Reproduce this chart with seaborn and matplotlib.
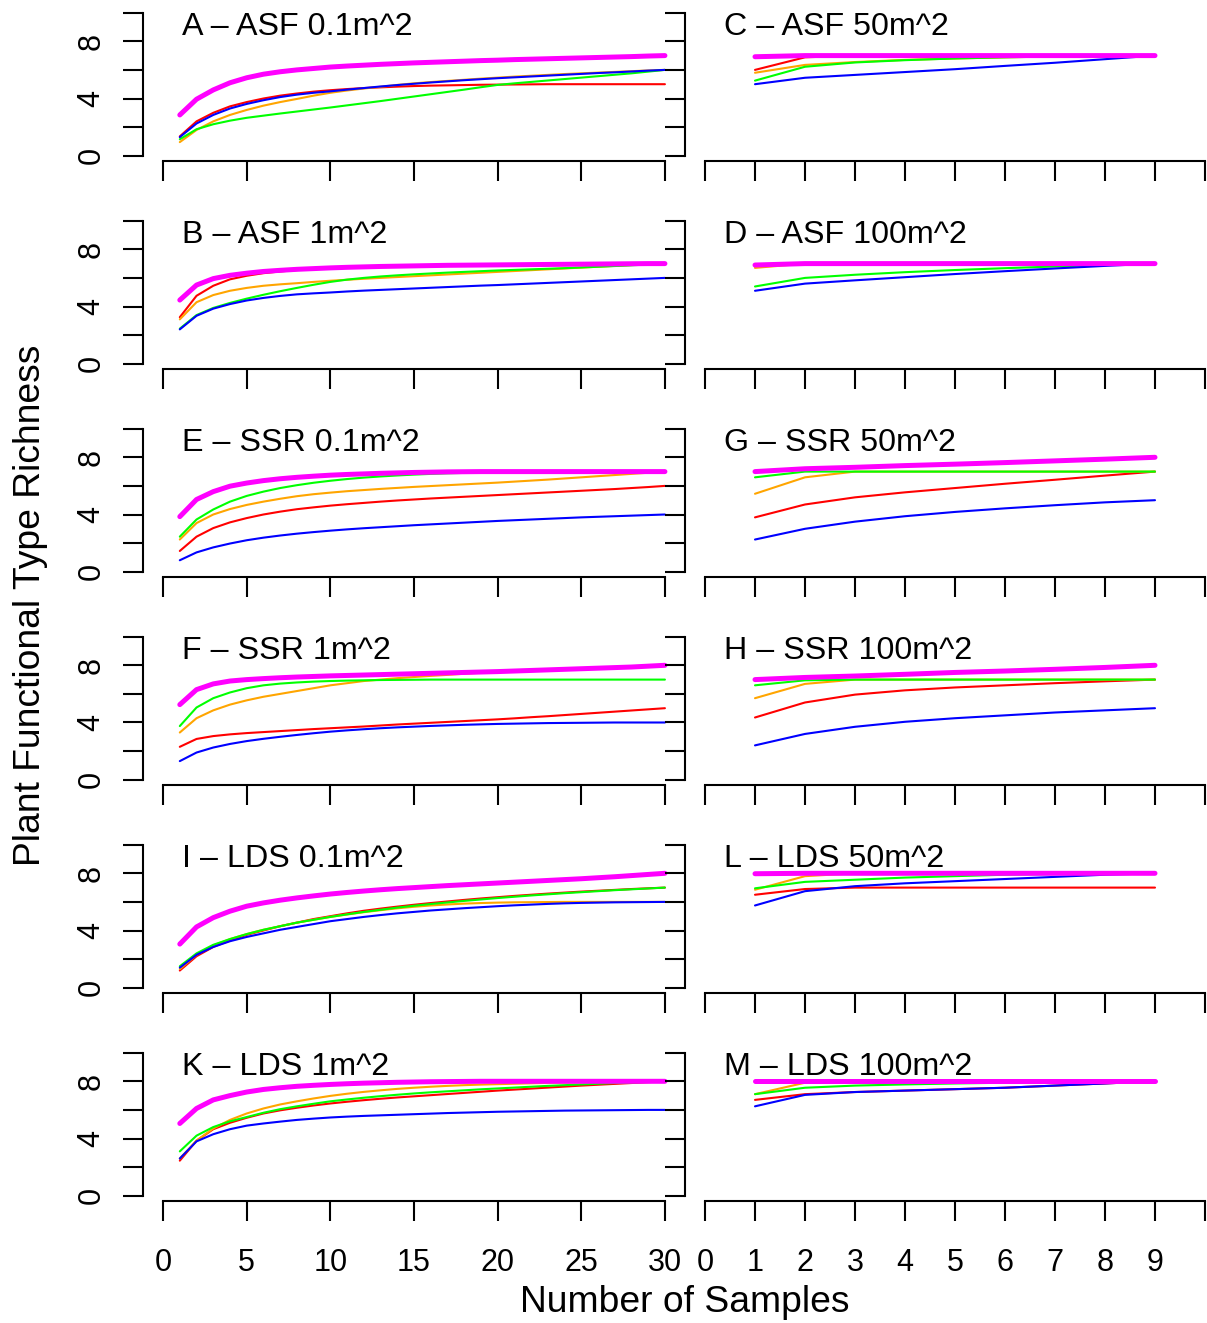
import matplotlib
matplotlib.use("Agg")
import matplotlib.pyplot as plt
import matplotlib.transforms as mtransforms
import pandas as pd
import seaborn as sns

# ---------------- data ----------------
samples_small = list(range(1, 31))   # 0.1m^2 and 1m^2 plots
samples_large = list(range(1, 10))   # 50m^2 and 100m^2 plots

series_order = ["red", "orange", "green", "blue", "magenta"]

# A - ASF 0.1m^2
asf01_red = [1.35, 2.4, 3.0, 3.45, 3.75, 4.0, 4.2, 4.35, 4.48, 4.58, 4.66, 4.73, 4.78, 4.83, 4.87,
             4.9, 4.92, 4.94, 4.96, 4.97, 4.98, 4.99, 5.0, 5.0, 5.0, 5.0, 5.0, 5.0, 5.0, 5.0]
asf01_orange = [0.95, 1.8, 2.4, 2.85, 3.2, 3.5, 3.75, 3.97, 4.2, 4.4, 4.56, 4.7, 4.82, 4.95, 5.06,
                5.15, 5.23, 5.31, 5.39, 5.46, 5.53, 5.59, 5.65, 5.71, 5.76, 5.81, 5.86, 5.91, 5.96, 6.0]
asf01_green = [1.15, 1.85, 2.2, 2.45, 2.65, 2.8, 2.95, 3.09, 3.23, 3.37, 3.52, 3.67, 3.82, 3.98, 4.14,
               4.3, 4.46, 4.62, 4.79, 4.95, 5.06, 5.16, 5.26, 5.36, 5.46, 5.56, 5.66, 5.76, 5.88, 6.0]
asf01_blue = [1.3, 2.25, 2.85, 3.3, 3.62, 3.88, 4.1, 4.27, 4.4, 4.5, 4.62, 4.73, 4.84, 4.94, 5.03,
              5.12, 5.2, 5.28, 5.35, 5.42, 5.48, 5.54, 5.6, 5.66, 5.72, 5.78, 5.83, 5.89, 5.95, 6.0]
asf01_magenta = [2.85, 3.95, 4.6, 5.1, 5.45, 5.7, 5.87, 6.0, 6.1, 6.2, 6.27, 6.33, 6.39, 6.44, 6.49,
                 6.53, 6.57, 6.61, 6.65, 6.68, 6.72, 6.75, 6.78, 6.81, 6.84, 6.87, 6.9, 6.93, 6.97, 7.0]

# B - ASF 1m^2
asf1_red = [3.25, 4.75, 5.45, 5.9, 6.15, 6.33, 6.45, 6.55, 6.62, 6.68, 6.73, 6.77, 6.8, 6.83, 6.85,
            6.87, 6.89, 6.9, 6.91, 6.92, 6.93, 6.94, 6.95, 6.96, 6.97, 6.98, 6.98, 6.99, 7.0, 7.0]
asf1_orange = [3.1, 4.3, 4.8, 5.1, 5.3, 5.45, 5.55, 5.63, 5.72, 5.8, 5.87, 5.94, 6.0, 6.06, 6.12,
               6.18, 6.24, 6.3, 6.36, 6.42, 6.48, 6.54, 6.6, 6.66, 6.72, 6.78, 6.84, 6.9, 6.95, 7.0]
asf1_green = [2.45, 3.4, 3.9, 4.25, 4.55, 4.82, 5.07, 5.3, 5.52, 5.72, 5.88, 6.0, 6.1, 6.18, 6.25,
              6.31, 6.37, 6.42, 6.47, 6.52, 6.56, 6.6, 6.64, 6.68, 6.73, 6.78, 6.83, 6.88, 6.94, 7.0]
asf1_blue = [2.4, 3.35, 3.85, 4.17, 4.42, 4.6, 4.74, 4.85, 4.92, 4.98, 5.05, 5.11, 5.16, 5.21, 5.26,
             5.31, 5.36, 5.41, 5.46, 5.5, 5.55, 5.6, 5.65, 5.7, 5.75, 5.8, 5.85, 5.9, 5.95, 6.0]
asf1_magenta = [4.45, 5.5, 5.95, 6.18, 6.33, 6.45, 6.53, 6.6, 6.65, 6.7, 6.74, 6.77, 6.8, 6.82, 6.84,
                6.86, 6.88, 6.89, 6.9, 6.91, 6.92, 6.93, 6.94, 6.95, 6.96, 6.97, 6.98, 6.99, 7.0, 7.0]

# C - ASF 50m^2
asf50_red = [6.0, 6.88, 7.0, 7.0, 7.0, 7.0, 7.0, 7.0, 7.0]
asf50_orange = [5.8, 6.35, 6.55, 6.7, 6.8, 6.88, 6.94, 6.98, 7.0]
asf50_green = [5.25, 6.22, 6.52, 6.68, 6.8, 6.88, 6.94, 6.98, 7.0]
asf50_blue = [5.0, 5.45, 5.65, 5.85, 6.05, 6.28, 6.5, 6.75, 7.0]
asf50_magenta = [6.92, 7.0, 7.0, 7.0, 7.0, 7.0, 7.0, 7.0, 7.0]

# D - ASF 100m^2
asf100_red = [6.8, 7.0, 7.0, 7.0, 7.0, 7.0, 7.0, 7.0, 7.0]
asf100_orange = [6.7, 7.0, 7.0, 7.0, 7.0, 7.0, 7.0, 7.0, 7.0]
asf100_green = [5.4, 6.0, 6.22, 6.4, 6.55, 6.68, 6.8, 6.9, 7.0]
asf100_blue = [5.1, 5.6, 5.83, 6.05, 6.27, 6.47, 6.66, 6.84, 7.0]
asf100_magenta = [6.9, 7.0, 7.0, 7.0, 7.0, 7.0, 7.0, 7.0, 7.0]

# E - SSR 0.1m^2
ssr01_red = [1.45, 2.45, 3.05, 3.45, 3.75, 4.0, 4.2, 4.37, 4.5, 4.62, 4.72, 4.81, 4.9, 4.98, 5.05,
             5.12, 5.18, 5.24, 5.3, 5.36, 5.42, 5.48, 5.54, 5.6, 5.66, 5.72, 5.78, 5.85, 5.92, 6.0]
ssr01_orange = [2.25, 3.4, 4.0, 4.38, 4.67, 4.9, 5.1, 5.28, 5.42, 5.53, 5.63, 5.71, 5.79, 5.86, 5.93,
                5.99, 6.05, 6.11, 6.17, 6.23, 6.3, 6.37, 6.44, 6.52, 6.6, 6.68, 6.76, 6.84, 6.92, 7.0]
ssr01_green = [2.45, 3.65, 4.35, 4.9, 5.3, 5.6, 5.85, 6.05, 6.22, 6.36, 6.48, 6.58, 6.66, 6.73, 6.79,
               6.84, 6.88, 6.91, 6.94, 6.96, 6.98, 6.99, 7.0, 7.0, 7.0, 7.0, 7.0, 7.0, 7.0, 7.0]
ssr01_blue = [0.8, 1.35, 1.7, 1.97, 2.2, 2.38, 2.53, 2.66, 2.77, 2.87, 2.96, 3.04, 3.11, 3.18, 3.25,
              3.31, 3.37, 3.43, 3.49, 3.55, 3.6, 3.65, 3.7, 3.75, 3.8, 3.84, 3.88, 3.92, 3.96, 4.0]
ssr01_magenta = [3.85, 5.05, 5.6, 5.98, 6.2, 6.37, 6.5, 6.6, 6.68, 6.75, 6.8, 6.84, 6.88, 6.91, 6.94,
                 6.96, 6.98, 6.99, 7.0, 7.0, 7.0, 7.0, 7.0, 7.0, 7.0, 7.0, 7.0, 7.0, 7.0, 7.0]

# F - SSR 1m^2
ssr1_red = [2.3, 2.85, 3.05, 3.17, 3.26, 3.33, 3.4, 3.47, 3.54, 3.6, 3.66, 3.72, 3.79, 3.86, 3.92,
            3.98, 4.04, 4.1, 4.16, 4.22, 4.29, 4.37, 4.44, 4.52, 4.6, 4.68, 4.76, 4.84, 4.92, 5.0]
ssr1_orange = [3.3, 4.3, 4.85, 5.25, 5.55, 5.8, 6.0, 6.2, 6.4, 6.6, 6.75, 6.9, 7.0, 7.1, 7.18,
               7.26, 7.33, 7.41, 7.48, 7.55, 7.6, 7.65, 7.7, 7.74, 7.78, 7.82, 7.86, 7.9, 7.95, 8.0]
ssr1_green = [3.75, 5.05, 5.7, 6.1, 6.4, 6.6, 6.72, 6.8, 6.86, 6.9, 6.93, 6.95, 6.97, 6.98, 6.99,
              7.0, 7.0, 7.0, 7.0, 7.0, 7.0, 7.0, 7.0, 7.0, 7.0, 7.0, 7.0, 7.0, 7.0, 7.0]
ssr1_blue = [1.3, 1.9, 2.25, 2.5, 2.7, 2.86, 3.0, 3.13, 3.25, 3.36, 3.45, 3.53, 3.6, 3.66, 3.71,
             3.76, 3.8, 3.84, 3.87, 3.9, 3.92, 3.94, 3.96, 3.97, 3.98, 3.99, 4.0, 4.0, 4.0, 4.0]
ssr1_magenta = [5.25, 6.3, 6.7, 6.9, 7.0, 7.07, 7.13, 7.18, 7.22, 7.26, 7.29, 7.32, 7.35, 7.38, 7.41,
                7.44, 7.47, 7.5, 7.53, 7.56, 7.6, 7.64, 7.68, 7.72, 7.76, 7.8, 7.84, 7.88, 7.94, 8.0]

# G - SSR 50m^2
ssr50_red = [3.8, 4.7, 5.2, 5.55, 5.85, 6.15, 6.43, 6.72, 7.0]
ssr50_orange = [5.45, 6.6, 7.0, 7.0, 7.0, 7.0, 7.0, 7.0, 7.0]
ssr50_green = [6.6, 7.0, 7.0, 7.0, 7.0, 7.0, 7.0, 7.0, 7.0]
ssr50_blue = [2.25, 3.0, 3.5, 3.88, 4.18, 4.43, 4.65, 4.85, 5.0]
ssr50_magenta = [7.0, 7.2, 7.3, 7.42, 7.52, 7.63, 7.75, 7.87, 8.0]

# H - SSR 100m^2
ssr100_red = [4.35, 5.4, 5.95, 6.25, 6.45, 6.6, 6.75, 6.88, 7.0]
ssr100_orange = [5.7, 6.7, 7.0, 7.0, 7.0, 7.0, 7.0, 7.0, 7.0]
ssr100_green = [6.6, 6.95, 7.0, 7.0, 7.0, 7.0, 7.0, 7.0, 7.0]
ssr100_blue = [2.4, 3.2, 3.7, 4.05, 4.3, 4.5, 4.7, 4.85, 5.0]
ssr100_magenta = [7.0, 7.15, 7.25, 7.37, 7.5, 7.6, 7.72, 7.85, 8.0]

# I - LDS 0.1m^2
lds01_red = [1.2, 2.2, 2.85, 3.3, 3.7, 4.0, 4.3, 4.55, 4.8, 5.0, 5.2, 5.38, 5.53, 5.67, 5.8,
             5.92, 6.03, 6.14, 6.24, 6.33, 6.42, 6.5, 6.58, 6.65, 6.72, 6.78, 6.84, 6.9, 6.95, 7.0]
lds01_orange = [1.3, 2.3, 2.95, 3.4, 3.75, 4.05, 4.3, 4.55, 4.75, 4.95, 5.12, 5.28, 5.42, 5.55, 5.66,
                5.75, 5.82, 5.88, 5.92, 5.95, 5.97, 5.98, 5.99, 6.0, 6.0, 6.0, 6.0, 6.0, 6.0, 6.0]
lds01_green = [1.5, 2.4, 3.0, 3.4, 3.75, 4.05, 4.3, 4.55, 4.75, 4.95, 5.13, 5.3, 5.45, 5.6, 5.73,
               5.85, 5.96, 6.07, 6.17, 6.27, 6.36, 6.45, 6.53, 6.61, 6.68, 6.75, 6.82, 6.88, 6.94, 7.0]
lds01_blue = [1.4, 2.3, 2.85, 3.25, 3.55, 3.8, 4.05, 4.25, 4.45, 4.65, 4.8, 4.95, 5.08, 5.2, 5.3,
              5.4, 5.48, 5.56, 5.63, 5.7, 5.76, 5.81, 5.86, 5.9, 5.93, 5.95, 5.97, 5.98, 5.99, 6.0]
lds01_magenta = [3.05, 4.25, 4.9, 5.35, 5.7, 5.93, 6.12, 6.28, 6.42, 6.55, 6.66, 6.76, 6.85, 6.93, 7.0,
                 7.07, 7.14, 7.2, 7.26, 7.32, 7.38, 7.44, 7.5, 7.56, 7.62, 7.69, 7.76, 7.84, 7.92, 8.0]

# K - LDS 1m^2
lds1_red = [2.45, 3.85, 4.65, 5.1, 5.45, 5.75, 5.97, 6.15, 6.31, 6.45, 6.57, 6.68, 6.78, 6.87, 6.95,
            7.03, 7.11, 7.19, 7.27, 7.35, 7.42, 7.49, 7.56, 7.63, 7.7, 7.76, 7.82, 7.88, 7.94, 8.0]
lds1_orange = [2.6, 3.85, 4.7, 5.3, 5.75, 6.1, 6.38, 6.6, 6.8, 6.98, 7.13, 7.26, 7.37, 7.47, 7.55,
               7.62, 7.68, 7.73, 7.77, 7.8, 7.83, 7.86, 7.89, 7.91, 7.93, 7.95, 7.97, 7.98, 7.99, 8.0]
lds1_green = [3.1, 4.2, 4.8, 5.2, 5.5, 5.8, 6.05, 6.25, 6.43, 6.6, 6.73, 6.85, 6.96, 7.06, 7.15,
              7.23, 7.3, 7.37, 7.44, 7.5, 7.56, 7.62, 7.68, 7.73, 7.78, 7.83, 7.88, 7.92, 7.96, 8.0]
lds1_blue = [2.6, 3.8, 4.3, 4.65, 4.9, 5.05, 5.18, 5.3, 5.39, 5.47, 5.53, 5.58, 5.62, 5.66, 5.7,
             5.74, 5.78, 5.81, 5.84, 5.87, 5.89, 5.91, 5.93, 5.95, 5.96, 5.97, 5.98, 5.99, 6.0, 6.0]
lds1_magenta = [5.05, 6.1, 6.7, 7.0, 7.25, 7.43, 7.55, 7.65, 7.72, 7.78, 7.83, 7.87, 7.9, 7.93, 7.95,
                7.97, 7.98, 7.99, 8.0, 8.0, 8.0, 8.0, 8.0, 8.0, 8.0, 8.0, 8.0, 8.0, 8.0, 8.0]

# L - LDS 50m^2
lds50_red = [6.5, 6.9, 7.0, 7.0, 7.0, 7.0, 7.0, 7.0, 7.0]
lds50_orange = [6.85, 7.8, 8.0, 8.0, 8.0, 8.0, 8.0, 8.0, 8.0]
lds50_green = [6.95, 7.4, 7.55, 7.7, 7.8, 7.9, 7.95, 8.0, 8.0]
lds50_blue = [5.75, 6.75, 7.1, 7.3, 7.45, 7.6, 7.75, 7.9, 8.0]
lds50_magenta = [7.97, 8.0, 8.0, 8.0, 8.0, 8.0, 8.0, 8.0, 8.0]

# M - LDS 100m^2
lds100_red = [6.7, 7.1, 7.25, 7.35, 7.45, 7.55, 7.7, 7.85, 8.0]
lds100_orange = [7.1, 7.9, 8.0, 8.0, 8.0, 8.0, 8.0, 8.0, 8.0]
lds100_green = [7.1, 7.55, 7.7, 7.78, 7.85, 7.9, 7.95, 8.0, 8.0]
lds100_blue = [6.25, 7.05, 7.25, 7.35, 7.45, 7.55, 7.7, 7.85, 8.0]
lds100_magenta = [8.0, 8.0, 8.0, 8.0, 8.0, 8.0, 8.0, 8.0, 8.0]

left_titles = ["A – ASF 0.1m^2", "B – ASF 1m^2", "E – SSR 0.1m^2",
               "F – SSR 1m^2", "I – LDS 0.1m^2", "K – LDS 1m^2"]
right_titles = ["C – ASF 50m^2", "D – ASF 100m^2", "G – SSR 50m^2",
                "H – SSR 100m^2", "L – LDS 50m^2", "M – LDS 100m^2"]

left_xticks = [0, 5, 10, 15, 20, 25, 30]
right_xticks = [0, 1, 2, 3, 4, 5, 6, 7, 8, 9, 10]
right_xticklabels = ["0", "1", "2", "3", "4", "5", "6", "7", "8", "9", ""]
yticks = [0, 2, 4, 6, 8, 10]
yticklabels = ["0", "", "4", "", "8", ""]

left_panels = [
    [asf01_red, asf01_orange, asf01_green, asf01_blue, asf01_magenta],
    [asf1_red, asf1_orange, asf1_green, asf1_blue, asf1_magenta],
    [ssr01_red, ssr01_orange, ssr01_green, ssr01_blue, ssr01_magenta],
    [ssr1_red, ssr1_orange, ssr1_green, ssr1_blue, ssr1_magenta],
    [lds01_red, lds01_orange, lds01_green, lds01_blue, lds01_magenta],
    [lds1_red, lds1_orange, lds1_green, lds1_blue, lds1_magenta],
]
right_panels = [
    [asf50_red, asf50_orange, asf50_green, asf50_blue, asf50_magenta],
    [asf100_red, asf100_orange, asf100_green, asf100_blue, asf100_magenta],
    [ssr50_red, ssr50_orange, ssr50_green, ssr50_blue, ssr50_magenta],
    [ssr100_red, ssr100_orange, ssr100_green, ssr100_blue, ssr100_magenta],
    [lds50_red, lds50_orange, lds50_green, lds50_blue, lds50_magenta],
    [lds100_red, lds100_orange, lds100_green, lds100_blue, lds100_magenta],
]

# ---------------- style ----------------
sns.set_theme(style="white")
plt.rcParams['font.family'] = ['Liberation Sans', 'DejaVu Sans']

colors = {"red": "#FF0000", "orange": "#FFA500", "green": "#00FF00",
          "blue": "#0000FF", "magenta": "#FF00FF"}
widths = {"red": 1.5, "orange": 1.5, "green": 1.5, "blue": 1.5, "magenta": 3.6}

W, H = 1207, 1323
fig = plt.figure(figsize=(W / 100, H / 100), dpi=100)
fig.patch.set_facecolor("white")

ROW0_Y0 = 155.7
ROW_STEP = 208.0
PX_UNIT = 14.3
TICK_LEN = 14.4
AX_LW = 1.5
FS = 22
TITLE_FS = 23.2


def axes_rect(left_px, width_px, row):
    y0 = ROW0_Y0 + ROW_STEP * row
    top = y0 - 10.4 * PX_UNIT
    bottom = y0 + 0.4 * PX_UNIT
    return [left_px / W, 1 - bottom / H, width_px / W, (bottom - top) / H]


def style_axes(ax, xlim, xticks, xticklabels, xmax, show_ylabels, show_xlabels, title):
    ax.set_xlim(*xlim)
    ax.set_ylim(-0.4, 10.4)
    ax.patch.set_visible(False)
    ax.grid(False)
    for s in ["top", "right"]:
        ax.spines[s].set_visible(False)
    for s in ["left", "bottom"]:
        ax.spines[s].set_visible(True)
        ax.spines[s].set_color("black")
        ax.spines[s].set_linewidth(AX_LW)
    ax.spines["left"].set_bounds(0, 10)
    ax.spines["bottom"].set_bounds(0, xmax)
    ax.set_xticks(xticks)
    ax.set_yticks(yticks)
    ax.set_xticklabels(xticklabels if show_xlabels else [""] * len(xticks))
    ax.set_yticklabels(yticklabels if show_ylabels else [""] * len(yticks))
    ax.tick_params(axis="both", which="major", direction="out", length=TICK_LEN,
                   width=AX_LW, color="black", labelsize=FS, labelcolor="black",
                   bottom=True, left=True)
    ax.tick_params(axis="x", pad=19)
    ax.tick_params(axis="y", pad=12, labelrotation=90)
    plt.setp(ax.get_yticklabels(), va="center", ha="right")
    ax.set_xlabel("")
    ax.set_ylabel("")
    trans = mtransforms.blended_transform_factory(ax.transAxes, ax.transData)
    ax.text(39.0 / (ax.get_position().width * W), 8.45, title, transform=trans,
            ha="left", va="baseline", fontsize=TITLE_FS, color="black")


def draw_panel(ax, xs, values):
    for name, ys in zip(series_order, values):
        df = pd.DataFrame({"samples": xs, "richness": ys})
        sns.lineplot(data=df, x="samples", y="richness", ax=ax, color=colors[name],
                     linewidth=widths[name], legend=False, sort=False,
                     solid_capstyle="round", solid_joinstyle="round")


for row in range(6):
    axl = fig.add_axes(axes_rect(143, 542, row))
    draw_panel(axl, samples_small, left_panels[row])
    style_axes(axl, (-1.2, 31.2), left_xticks, [str(t) for t in left_xticks], 30,
               True, row == 5, left_titles[row])

    axr = fig.add_axes(axes_rect(685, 540, row))
    draw_panel(axr, samples_large, right_panels[row])
    style_axes(axr, (-0.4, 10.4), right_xticks, right_xticklabels, 10,
               False, row == 5, right_titles[row])

fig.text(685 / W, 1 - 1303 / H, "Number of Samples", ha="center", va="center",
         fontsize=26.8, color="black")
fig.text(31 / W, 1 - 605 / H, "Plant Functional Type Richness", ha="center", va="center",
         rotation=90, fontsize=26.8, color="black")

fig.savefig("out.png", dpi=100, facecolor="white")
